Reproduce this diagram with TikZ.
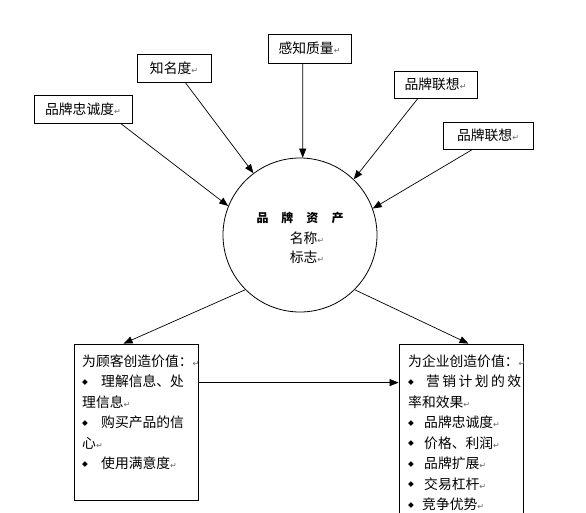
\documentclass[tikz,border=0pt]{standalone}
\usepackage{fontspec}
\setmainfont{Noto Sans CJK SC}
\newfontfamily\dejavu{DejaVu Sans}
\usetikzlibrary{arrows.meta,calc}
\newcommand{\pmark}{{\dejavu\fontsize{8}{8}\selectfont\textcolor{black!60}{↵}}}
\newcommand{\bul}{\raisebox{2.3pt}{\dejavu\fontsize{7.5}{7.5}\selectfont ◆}}
\begin{document}
\begin{tikzpicture}[x=1pt,y=-1pt,
  every node/.style={font=\fontsize{13.8}{16}\selectfont},
  lbox/.style={draw, line width=0.8pt, inner sep=0pt},
  txt/.style={inner sep=0pt, anchor=west},
  arr/.style={-{Triangle[length=9pt,width=7pt]}, line width=0.7pt}]
\clip (0,0) rectangle (586,513);
\fill[white] (0,0) rectangle (586,513);

% top boxes
\node[lbox, minimum width=98pt, minimum height=28pt] (lp) at (83,109) {品牌忠诚度\pmark};
\node[lbox, minimum width=74pt, minimum height=28pt] (zm) at (174,68) {知名度\pmark};
\node[lbox, minimum width=83pt, minimum height=29pt] (kz) at (309.5,48.5) {感知质量\pmark};
\node[lbox, minimum width=83pt, minimum height=27pt] (lx1) at (435.5,84.5) {品牌联想\pmark};
\node[lbox, minimum width=90pt, minimum height=27pt] (lx2) at (488,135.5) {品牌联想\pmark};

% circle
\node[draw, circle, line width=0.8pt, minimum size=154pt, inner sep=0pt] (c) at (300,235) {};
\node[inner sep=0pt, font=\fontsize{12}{14}\selectfont\bfseries] (c1) at (300,218) {品\hspace{13pt}牌\hspace{13pt}资\hspace{13pt}产};
\node[inner sep=0pt] (c2) at (307,238) {名称\pmark};
\node[inner sep=0pt] (c3) at (307,257) {标志\pmark};

% bottom boxes
\node[lbox, minimum width=124pt, minimum height=156pt] (lb) at (136,422) {};
\node[lbox, minimum width=124pt, minimum height=186pt] (rb) at (461,437) {};

\node[txt] (l1) at (82,361) {为顾客创造价值：\pmark};
\node[txt] (l2) at (82,381.5) {\makebox[19pt][l]{\bul}理解信息、处};
\node[txt] (l3) at (82,402) {理信息\pmark};
\node[txt] (l4) at (82,422.5) {\makebox[19pt][l]{\bul}购买产品的信};
\node[txt] (l5) at (82,443) {心\pmark};
\node[txt] (l6) at (82,463.5) {\makebox[19pt][l]{\bul}使用满意度\pmark};

\node[txt] (r1) at (408,361) {为企业创造价值：\pmark};
\node[txt] (r2) at (408,381.5) {\makebox[18pt][l]{\bul}\makebox[95pt][s]{营\hfill 销\hfill 计\hfill 划\hfill 的\hfill 效}};
\node[txt] (r3) at (408,402) {率和效果\pmark};
\node[txt] (r4) at (408,422.5) {\makebox[16pt][l]{\bul}品牌忠诚度\pmark};
\node[txt] (r5) at (408,443) {\makebox[16pt][l]{\bul}价格、利润\pmark};
\node[txt] (r6) at (408,463.5) {\makebox[16pt][l]{\bul}品牌扩展\pmark};
\node[txt] (r7) at (408,484) {\makebox[16pt][l]{\bul}交易杠杆\pmark};
\node[txt] (r8) at (408,504.5) {\makebox[14pt][l]{\bul}竞争优势\pmark};

% arrows
\draw[arr] ($(lp.south west)!0.88!(lp.south east)$) -- (c.158);
\draw[arr] ($(zm.south west)!0.65!(zm.south east)$) -- (c.127);
\draw[arr] ($(kz.south west)!0.42!(kz.south east)$) -- (c.88);
\draw[arr] ($(lx1.south west)!0.29!(lx1.south east)$) -- (c.46);
\draw[arr] ($(lx2.south west)!0.33!(lx2.south east)$) -- (c.20);
\draw[arr] (c.225) -- ($(lb.north west)!0.40!(lb.north east)$);
\draw[arr] (c.315) -- ($(rb.north west)!0.56!(rb.north east)$);
\coordinate (h1) at ($(lb.north east)+(0,39)$);
\draw[arr] (h1) -- (h1 -| rb.west);
\end{tikzpicture}
\end{document}
